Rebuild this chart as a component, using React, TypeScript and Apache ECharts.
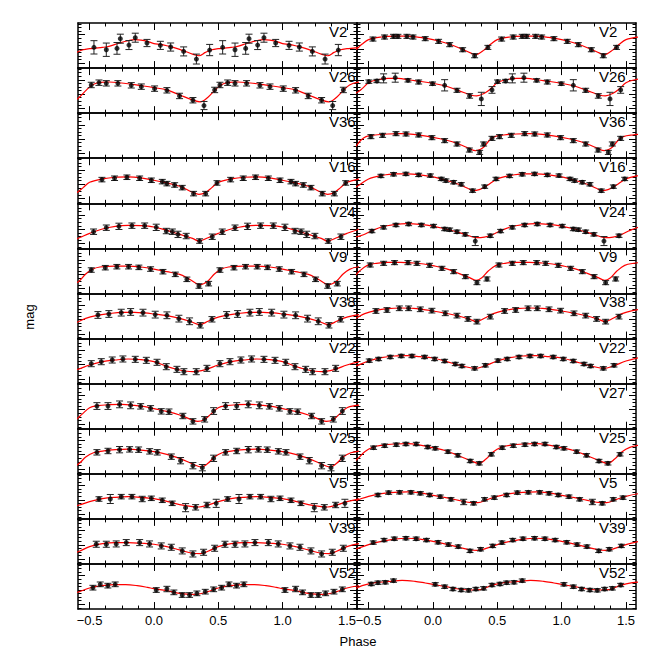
import React, { useEffect, useRef } from 'react';
import * as echarts from 'echarts';

// ---------- axes ----------
const X_MIN = -0.59;
const X_MAX = 1.578;
const X_MAJOR = [-0.5, 0, 0.5, 1, 1.5];
const X_MINOR = [-0.375, -0.25, -0.125, 0.125, 0.25, 0.375, 0.625, 0.75, 0.875, 1.125, 1.25, 1.375];
const Y_MAJOR = [0.26, 0.577, 0.894];
const Y_MINOR = [0.022, 0.101, 0.181, 0.339, 0.418, 0.498, 0.656, 0.735, 0.815, 0.973];

const LEFT_NAMES = ['V2', 'V26', 'V36', 'V16', 'V24', 'V9', 'V38', 'V22', 'V27', 'V25', 'V5', 'V39', 'V52'];
const RIGHT_NAMES = ['V2', 'V26', 'V36', 'V16', 'V24', 'V9', 'V38', 'V22', 'V27', 'V25', 'V5', 'V39', 'V52'];

// ---------- data: [phase, relative mag (0 top .. 1 bottom), error] ----------
const L_V2_PTS = [[-0.466,0.54,0.148],[-0.37,0.593,0.148],[-0.287,0.563,0.13],[-0.261,0.348,0.1],[-0.194,0.489,0.1],[-0.145,0.326,0.1],[-0.054,0.444,0.08],[0.05,0.496,0.09],[0.13,0.533,0.09],[0.231,0.63,0.1],[0.33,0.8,0.11],[0.433,0.6,0.125]];
const L_V2_FIT = [[0,0.456],[0.05,0.474],[0.1,0.504],[0.15,0.541],[0.2,0.585],[0.25,0.637],[0.3,0.689],[0.35,0.726],[0.4,0.652],[0.45,0.593],[0.5,0.57],[0.55,0.556],[0.6,0.541],[0.65,0.519],[0.7,0.474],[0.75,0.43],[0.8,0.393],[0.85,0.37],[0.9,0.378],[0.95,0.407]];
const L_V26_PTS = [[-0.487,0.375,0.06],[-0.427,0.324,0.06],[-0.37,0.338,0.06],[-0.28,0.338,0.06],[-0.176,0.382,0.06],[-0.098,0.412,0.06],[0.005,0.456,0.06],[0.101,0.493,0.06],[0.199,0.618,0.06],[0.303,0.713,0.06],[0.389,0.831,0.09],[0.472,0.485,0.06]];
const L_V26_FIT = [[0,0.434],[0.1,0.485],[0.2,0.596],[0.3,0.706],[0.36,0.75],[0.42,0.647],[0.47,0.5],[0.52,0.375],[0.58,0.316],[0.65,0.309],[0.75,0.331],[0.85,0.368],[0.92,0.397]];
const L_V16_PTS = [[-0.404,0.474,0.05],[-0.306,0.444,0.05],[-0.21,0.422,0.05],[-0.111,0.444,0.05],[-0.02,0.489,0.05],[0.065,0.519,0.05],[0.101,0.563,0.05],[0.161,0.593,0.05],[0.22,0.652,0.05],[0.308,0.785,0.05],[0.402,0.785,0.05],[0.49,0.548,0.05]];
const L_V16_FIT = [[0,0.489],[0.1,0.548],[0.2,0.622],[0.3,0.756],[0.35,0.8],[0.4,0.763],[0.45,0.652],[0.5,0.533],[0.6,0.459],[0.7,0.422],[0.8,0.415],[0.9,0.437]];
const L_V24_PTS = [[-0.469,0.63,0.06],[-0.37,0.541,0.06],[-0.272,0.511,0.07],[-0.171,0.496,0.06],[-0.072,0.496,0.06],[0.018,0.533,0.07],[0.096,0.615,0.06],[0.143,0.63,0.06],[0.187,0.689,0.07],[0.251,0.726,0.06],[0.355,0.837,0.05],[0.453,0.741,0.06]];
const L_V24_FIT = [[0,0.526],[0.1,0.6],[0.2,0.689],[0.3,0.778],[0.35,0.837],[0.42,0.763],[0.5,0.667],[0.6,0.57],[0.7,0.511],[0.8,0.489],[0.9,0.496]];
const L_V9_PTS = [[-0.487,0.48,0.05],[-0.378,0.428,0.05],[-0.288,0.406,0.05],[-0.197,0.406,0.05],[-0.117,0.421,0.05],[-0.026,0.458,0.05],[0.07,0.517,0.05],[0.166,0.576,0.05],[0.256,0.686,0.05],[0.35,0.834,0.05],[0.425,0.782,0.05]];
const L_V9_FIT = [[0,0.458],[0.1,0.517],[0.2,0.576],[0.27,0.672],[0.36,0.805],[0.42,0.723],[0.47,0.568],[0.52,0.465],[0.58,0.413],[0.7,0.391],[0.8,0.391],[0.9,0.413]];
const L_V38_PTS = [[-0.435,0.477,0.075],[-0.35,0.455,0.075],[-0.254,0.425,0.075],[-0.181,0.41,0.075],[-0.085,0.425,0.075],[0.01,0.469,0.075],[0.101,0.484,0.075],[0.194,0.558,0.075],[0.277,0.617,0.075],[0.36,0.706,0.06],[0.451,0.573,0.06]];
const L_V38_FIT = [[0,0.455],[0.1,0.492],[0.2,0.551],[0.28,0.617],[0.355,0.691],[0.42,0.617],[0.47,0.551],[0.55,0.492],[0.65,0.447],[0.75,0.418],[0.85,0.418],[0.93,0.432]];
const L_V22_PTS = [[-0.487,0.557,0.067],[-0.409,0.513,0.067],[-0.324,0.476,0.067],[-0.241,0.453,0.067],[-0.145,0.461,0.067],[-0.059,0.483,0.067],[0.024,0.527,0.067],[0.096,0.624,0.067],[0.179,0.683,0.067],[0.233,0.735,0.067],[0.329,0.735,0.067],[0.412,0.661,0.067]];
const L_V22_FIT = [[0,0.513],[0.1,0.616],[0.2,0.698],[0.3,0.735],[0.4,0.69],[0.5,0.587],[0.6,0.513],[0.7,0.476],[0.8,0.453],[0.9,0.468]];
const L_V27_PTS = [[-0.443,0.497,0.075],[-0.357,0.497,0.075],[-0.267,0.46,0.075],[-0.181,0.482,0.075],[-0.103,0.504,0.06],[-0.026,0.548,0.06],[0.057,0.615,0.06],[0.117,0.622,0.06],[0.225,0.718,0.06],[0.303,0.837,0.06],[0.394,0.792,0.06],[0.464,0.608,0.075]];
const L_V27_FIT = [[0,0.556],[0.1,0.615],[0.2,0.696],[0.3,0.807],[0.34,0.837],[0.39,0.8],[0.44,0.681],[0.5,0.533],[0.56,0.489],[0.65,0.467],[0.75,0.46],[0.85,0.482],[0.93,0.511]];
const L_V25_PTS = [[-0.443,0.524,0.06],[-0.357,0.494,0.06],[-0.267,0.465,0.07],[-0.189,0.458,0.06],[-0.119,0.465,0.06],[-0.033,0.502,0.06],[0.026,0.524,0.06],[0.135,0.62,0.06],[0.207,0.709,0.07],[0.303,0.82,0.07],[0.376,0.864,0.07],[0.464,0.657,0.07]];
const L_V25_FIT = [[0,0.509],[0.1,0.568],[0.2,0.657],[0.3,0.783],[0.37,0.849],[0.42,0.768],[0.47,0.628],[0.53,0.532],[0.6,0.495],[0.7,0.465],[0.8,0.451],[0.9,0.473]];
const L_V5_PTS = [[-0.427,0.559,0.05],[-0.339,0.559,0.1],[-0.254,0.507,0.05],[-0.171,0.507,0.05],[-0.091,0.559,0.06],[-0.02,0.544,0.05],[0.065,0.588,0.05],[0.142,0.655,0.05],[0.246,0.751,0.09],[0.324,0.744,0.06],[0.412,0.692,0.06],[0.484,0.655,0.09]];
const L_V5_FIT = [[0,0.551],[0.1,0.61],[0.2,0.684],[0.3,0.729],[0.35,0.736],[0.42,0.692],[0.5,0.618],[0.6,0.551],[0.7,0.521],[0.8,0.507],[0.9,0.521]];
const L_V39_PTS = [[-0.448,0.563,0.067],[-0.37,0.563,0.067],[-0.293,0.556,0.067],[-0.215,0.526,0.067],[-0.111,0.526,0.067],[-0.034,0.556,0.067],[0.057,0.6,0.067],[0.135,0.63,0.067],[0.22,0.711,0.067],[0.303,0.778,0.067],[0.386,0.741,0.067],[0.472,0.652,0.067]];
const L_V39_FIT = [[0,0.563],[0.1,0.615],[0.2,0.689],[0.3,0.763],[0.36,0.77],[0.42,0.719],[0.5,0.615],[0.6,0.548],[0.7,0.526],[0.8,0.526],[0.9,0.541]];
const L_V52_PTS = [[-0.474,0.526,0.052],[-0.417,0.452,0.052],[-0.358,0.481,0.052],[-0.301,0.452,0.052],[0.018,0.578,0.052],[0.101,0.556,0.06],[0.155,0.63,0.052],[0.22,0.689,0.052],[0.277,0.689,0.052],[0.334,0.652,0.052],[0.399,0.615,0.052],[0.464,0.563,0.052]];
const L_V52_FIT = [[0,0.548],[0.1,0.593],[0.2,0.652],[0.3,0.674],[0.35,0.667],[0.42,0.615],[0.5,0.533],[0.6,0.481],[0.7,0.459],[0.78,0.459],[0.87,0.481],[0.95,0.519]];

const R_V2_PTS = [[-0.466,0.356,0.045],[-0.376,0.311,0.045],[-0.306,0.296,0.045],[-0.272,0.296,0.045],[-0.202,0.296,0.045],[-0.155,0.311,0.045],[-0.06,0.348,0.045],[0.044,0.407,0.045],[0.13,0.481,0.045],[0.231,0.593,0.045],[0.324,0.726,0.045],[0.427,0.541,0.045]];
const R_V2_FIT = [[0,0.37],[0.1,0.444],[0.2,0.548],[0.3,0.674],[0.33,0.704],[0.4,0.593],[0.45,0.467],[0.5,0.37],[0.6,0.311],[0.7,0.289],[0.8,0.289],[0.9,0.319]];
const R_V26_PTS = [[-0.498,0.301,0.037],[-0.435,0.287,0.037],[-0.383,0.228,0.1],[-0.293,0.213,0.1],[-0.194,0.272,0.037],[-0.111,0.309,0.045],[-0.003,0.346,0.037],[0.091,0.382,0.125],[0.187,0.493,0.045],[0.285,0.618,0.05],[0.376,0.684,0.147],[0.459,0.485,0.074]];
const R_V26_FIT = [[0,0.338],[0.1,0.397],[0.2,0.5],[0.3,0.603],[0.34,0.618],[0.4,0.559],[0.45,0.456],[0.5,0.324],[0.56,0.265],[0.65,0.228],[0.73,0.228],[0.82,0.265],[0.9,0.294]];
const R_V36_PTS = [[-0.482,0.521,0.045],[-0.391,0.492,0.045],[-0.287,0.455,0.045],[-0.209,0.462,0.045],[-0.111,0.484,0.045],[-0.008,0.544,0.045],[0.091,0.61,0.045],[0.187,0.684,0.045],[0.283,0.818,0.045],[0.363,0.87,0.045],[0.394,0.684,0.045],[0.459,0.559,0.045]];
const R_V36_FIT = [[0,0.537],[0.1,0.596],[0.2,0.684],[0.28,0.781],[0.33,0.833],[0.37,0.8],[0.4,0.74],[0.44,0.6],[0.48,0.52],[0.55,0.484],[0.65,0.462],[0.75,0.455],[0.85,0.47]];
const R_V16_PTS = [[-0.404,0.393,0.037],[-0.306,0.356,0.037],[-0.21,0.348,0.037],[-0.111,0.37,0.037],[-0.02,0.385,0.037],[0.065,0.459,0.037],[0.101,0.496,0.037],[0.161,0.533,0.037],[0.22,0.578,0.037],[0.308,0.719,0.037],[0.402,0.63,0.037],[0.49,0.459,0.037]];
const R_V16_FIT = [[0,0.415],[0.1,0.489],[0.2,0.578],[0.27,0.667],[0.31,0.719],[0.36,0.696],[0.42,0.607],[0.5,0.459],[0.6,0.385],[0.7,0.348],[0.8,0.348],[0.9,0.37]];
const R_V24_PTS = [[-0.474,0.615,0.037],[-0.383,0.533,0.037],[-0.287,0.481,0.037],[-0.189,0.459,0.037],[-0.09,0.481,0.037],[0.005,0.504,0.037],[0.091,0.57,0.037],[0.13,0.585,0.037],[0.187,0.63,0.037],[0.251,0.689,0.037],[0.329,0.837,0.1],[0.446,0.719,0.037]];
const R_V24_FIT = [[0,0.504],[0.1,0.57],[0.2,0.644],[0.28,0.719],[0.34,0.763],[0.4,0.748],[0.46,0.696],[0.52,0.615],[0.6,0.526],[0.7,0.474],[0.8,0.452],[0.9,0.467]];
const R_V9_PTS = [[-0.487,0.368,0.045],[-0.383,0.331,0.045],[-0.298,0.316,0.045],[-0.194,0.316,0.045],[-0.124,0.331,0.045],[-0.026,0.375,0.045],[0.07,0.442,0.045],[0.161,0.516,0.045],[0.252,0.627,0.045],[0.342,0.76,0.045],[0.42,0.678,0.045]];
const R_V9_FIT = [[0,0.383],[0.1,0.449],[0.2,0.553],[0.28,0.642],[0.335,0.708],[0.38,0.649],[0.43,0.501],[0.49,0.376],[0.56,0.331],[0.65,0.309],[0.75,0.309],[0.85,0.324],[0.93,0.346]];
const R_V38_PTS = [[-0.443,0.388,0.052],[-0.357,0.366,0.052],[-0.261,0.329,0.052],[-0.189,0.329,0.052],[-0.098,0.351,0.052],[-0.008,0.381,0.052],[0.096,0.44,0.052],[0.187,0.491,0.052],[0.272,0.565,0.052],[0.342,0.625,0.052],[0.446,0.514,0.052]];
const R_V38_FIT = [[0,0.388],[0.1,0.44],[0.2,0.499],[0.28,0.565],[0.34,0.625],[0.4,0.551],[0.47,0.447],[0.55,0.381],[0.65,0.336],[0.75,0.322],[0.85,0.329],[0.93,0.359]];
const R_V22_PTS = [[-0.495,0.49,0.037],[-0.422,0.453,0.037],[-0.331,0.409,0.037],[-0.246,0.387,0.037],[-0.163,0.387,0.037],[-0.065,0.409,0.037],[0.013,0.453,0.037],[0.091,0.498,0.037],[0.174,0.564,0.037],[0.225,0.609,0.037],[0.324,0.661,0.037],[0.407,0.594,0.037]];
const R_V22_FIT = [[0,0.431],[0.1,0.505],[0.2,0.586],[0.3,0.653],[0.33,0.661],[0.4,0.609],[0.5,0.498],[0.6,0.424],[0.7,0.387],[0.8,0.379],[0.9,0.401]];
const R_V25_PTS = [[-0.461,0.421,0.037],[-0.375,0.376,0.037],[-0.285,0.354,0.037],[-0.21,0.339,0.037],[-0.129,0.339,0.037],[-0.041,0.406,0.037],[0.018,0.435,0.037],[0.117,0.509,0.037],[0.194,0.59,0.037],[0.29,0.716,0.037],[0.36,0.768,0.037],[0.454,0.568,0.037]];
const R_V25_FIT = [[0,0.421],[0.1,0.488],[0.2,0.599],[0.3,0.716],[0.355,0.768],[0.41,0.679],[0.47,0.509],[0.53,0.413],[0.6,0.369],[0.7,0.339],[0.8,0.332],[0.9,0.362]];
const R_V5_PTS = [[-0.427,0.47,0.037],[-0.344,0.418,0.037],[-0.259,0.411,0.037],[-0.171,0.411,0.037],[-0.098,0.433,0.037],[-0.026,0.47,0.037],[0.057,0.507,0.037],[0.14,0.566,0.037],[0.239,0.625,0.06],[0.316,0.655,0.037],[0.401,0.566,0.037],[0.477,0.529,0.037]];
const R_V5_FIT = [[0,0.477],[0.1,0.529],[0.2,0.588],[0.3,0.64],[0.35,0.64],[0.42,0.573],[0.5,0.499],[0.6,0.44],[0.7,0.411],[0.8,0.403],[0.9,0.425]];
const R_V39_PTS = [[-0.464,0.526,0.037],[-0.38,0.47,0.037],[-0.3,0.44,0.037],[-0.21,0.43,0.037],[-0.13,0.44,0.037],[-0.05,0.47,0.037],[0.04,0.52,0.037],[0.12,0.57,0.037],[0.197,0.615,0.037],[0.288,0.71,0.037],[0.37,0.674,0.037],[0.464,0.6,0.037]];
const R_V39_FIT = [[0,0.5],[0.1,0.56],[0.2,0.63],[0.29,0.69],[0.34,0.7],[0.42,0.65],[0.5,0.57],[0.6,0.5],[0.7,0.45],[0.8,0.43],[0.9,0.45]];
const R_V52_PTS = [[-0.479,0.444,0.037],[-0.427,0.415,0.037],[-0.37,0.407,0.037],[-0.306,0.37,0.037],[0.018,0.452,0.037],[0.091,0.504,0.037],[0.155,0.556,0.037],[0.22,0.578,0.037],[0.277,0.585,0.037],[0.334,0.556,0.037],[0.394,0.541,0.037],[0.459,0.467,0.037]];
const R_V52_FIT = [[0,0.452],[0.1,0.504],[0.2,0.556],[0.3,0.578],[0.37,0.57],[0.45,0.481],[0.55,0.415],[0.65,0.393],[0.76,0.363],[0.86,0.385],[0.94,0.422]];

const LEFT_PTS = [L_V2_PTS, L_V26_PTS, null, L_V16_PTS, L_V24_PTS, L_V9_PTS, L_V38_PTS, L_V22_PTS, L_V27_PTS, L_V25_PTS, L_V5_PTS, L_V39_PTS, L_V52_PTS];
const LEFT_FIT = [L_V2_FIT, L_V26_FIT, null, L_V16_FIT, L_V24_FIT, L_V9_FIT, L_V38_FIT, L_V22_FIT, L_V27_FIT, L_V25_FIT, L_V5_FIT, L_V39_FIT, L_V52_FIT];
const RIGHT_PTS = [R_V2_PTS, R_V26_PTS, R_V36_PTS, R_V16_PTS, R_V24_PTS, R_V9_PTS, R_V38_PTS, R_V22_PTS, null, R_V25_PTS, R_V5_PTS, R_V39_PTS, R_V52_PTS];
const RIGHT_FIT = [R_V2_FIT, R_V26_FIT, R_V36_FIT, R_V16_FIT, R_V24_FIT, R_V9_FIT, R_V38_FIT, R_V22_FIT, null, R_V25_FIT, R_V5_FIT, R_V39_FIT, R_V52_FIT];

// ---------- layout ----------
const COL_LEFT = [78, 357];
const COL_W = 279;
const TOP0 = 23;
const ROW_H = 45.08;
const N_ROWS = 13;
const LABEL_X = [329, 599];
const FONT = '"Liberation Sans", Arial, Helvetica, sans-serif';

// phase-folded curves are drawn over more than one cycle
function tileFit(fit: number[][]) {
  const out: number[][] = [];
  for (const k of [-1, 0, 1, 2]) {
    for (const [p, v] of fit) {
      const x = p + k;
      if (x >= X_MIN - 0.25 && x <= X_MAX + 0.25) out.push([x, v]);
    }
  }
  out.sort((a, b) => a[0] - b[0]);
  return out;
}
function tilePts(pts: number[][]) {
  const out: number[][] = [];
  for (const k of [0, 1]) {
    for (const [p, v, e] of pts) {
      const x = p + k;
      if (x >= -0.5 && x <= 1.5) out.push([x, v, e]);
    }
  }
  return out;
}

function fmt(v: number) {
  if (Math.abs(v) < 1e-9) return '0.0';
  return (v < 0 ? '\u2212' : '') + Math.abs(v).toFixed(1);
}

function buildOption() {
  const grid: any[] = [];
  const xAxis: any[] = [];
  const yAxis: any[] = [];
  const series: any[] = [];
  const graphic: any[] = [];
  const frame = { show: true, onZero: false, lineStyle: { color: '#000', width: 1.5 } };
  const noLine = { show: false, onZero: false };
  const tickStyle = { color: '#000', width: 1 };

  for (let col = 0; col < 2; col++) {
    for (let row = 0; row < N_ROWS; row++) {
      const gi = grid.length;
      const top = TOP0 + row * ROW_H;
      grid.push({ left: COL_LEFT[col], top, width: COL_W, height: ROW_H });
      const bottomRow = row === N_ROWS - 1;
      const xi = xAxis.length;
      const baseX = { gridIndex: gi, type: 'value', min: X_MIN, max: X_MAX, splitLine: { show: false } };
      xAxis.push({
        ...baseX, position: 'bottom', axisLine: frame,
        axisTick: { show: true, inside: true, length: 7, customValues: X_MAJOR, lineStyle: tickStyle },
        axisLabel: { show: bottomRow, customValues: X_MAJOR, formatter: fmt, margin: 5, fontSize: 13, color: '#000', fontFamily: FONT },
      });
      xAxis.push({
        ...baseX, position: 'bottom', axisLine: noLine,
        axisTick: { show: true, inside: true, length: 3.5, customValues: X_MINOR, lineStyle: tickStyle },
        axisLabel: { show: false },
      });
      xAxis.push({
        ...baseX, position: 'top', axisLine: frame,
        axisTick: { show: true, inside: true, length: 7, customValues: X_MAJOR, lineStyle: tickStyle },
        axisLabel: { show: false },
      });
      xAxis.push({
        ...baseX, position: 'top', axisLine: noLine,
        axisTick: { show: true, inside: true, length: 3.5, customValues: X_MINOR, lineStyle: tickStyle },
        axisLabel: { show: false },
      });
      const yi = yAxis.length;
      const baseY = { gridIndex: gi, type: 'value', min: 0, max: 1, inverse: true, splitLine: { show: false }, axisLabel: { show: false } };
      yAxis.push({ ...baseY, position: 'left', axisLine: frame,
        axisTick: { show: true, inside: true, length: 7, customValues: Y_MAJOR, lineStyle: tickStyle } });
      yAxis.push({ ...baseY, position: 'left', axisLine: noLine,
        axisTick: { show: true, inside: true, length: 3.5, customValues: Y_MINOR, lineStyle: tickStyle } });
      yAxis.push({ ...baseY, position: 'right', axisLine: frame,
        axisTick: { show: true, inside: true, length: 7, customValues: Y_MAJOR, lineStyle: tickStyle } });
      yAxis.push({ ...baseY, position: 'right', axisLine: noLine,
        axisTick: { show: true, inside: true, length: 3.5, customValues: Y_MINOR, lineStyle: tickStyle } });

      const fit = col === 0 ? LEFT_FIT[row] : RIGHT_FIT[row];
      const pts = col === 0 ? LEFT_PTS[row] : RIGHT_PTS[row];
      if (fit) {
        series.push({
          type: 'line', xAxisIndex: xi, yAxisIndex: yi, data: tileFit(fit), smooth: 0.35,
          showSymbol: false, symbol: 'none', lineStyle: { color: '#ff0000', width: 1.2 }, silent: true, z: 2,
        });
      }
      if (pts) {
        const d = tilePts(pts);
        series.push({
          type: 'custom', xAxisIndex: xi, yAxisIndex: yi, data: d, encode: { x: 0, y: 1 }, z: 3, silent: true,
          renderItem: (_p: any, api: any) => {
            const x = api.value(0), y = api.value(1), e = api.value(2);
            const a = api.coord([x, y - e]);
            const b = api.coord([x, y + e]);
            const w = 3.5;
            const style = { stroke: '#222', lineWidth: 1 };
            return {
              type: 'group', children: [
                { type: 'line', shape: { x1: a[0], y1: a[1], x2: b[0], y2: b[1] }, style },
                { type: 'line', shape: { x1: a[0] - w, y1: a[1], x2: a[0] + w, y2: a[1] }, style },
                { type: 'line', shape: { x1: b[0] - w, y1: b[1], x2: b[0] + w, y2: b[1] }, style },
              ],
            };
          },
        });
        series.push({
          type: 'scatter', xAxisIndex: xi, yAxisIndex: yi, data: d.map((q) => [q[0], q[1]]),
          symbol: 'circle', symbolSize: 5, itemStyle: { color: '#000' }, z: 4, silent: true,
        });
      }
      const names = col === 0 ? LEFT_NAMES : RIGHT_NAMES;
      graphic.push({
        type: 'text', x: LABEL_X[col], y: top + 1, z: 10,
        style: { text: names[row], fontSize: 15, fontFamily: FONT, fill: '#000', align: 'left', verticalAlign: 'top' },
      });
    }
  }
  graphic.push({
    type: 'text', x: 358, y: 641,
    style: { text: 'Phase', fontSize: 13, fontFamily: FONT, fill: '#000', align: 'center', verticalAlign: 'middle' },
  });
  graphic.push({
    type: 'text', x: 29, y: 317, rotation: Math.PI / 2,
    style: { text: 'mag', fontSize: 13, fontFamily: FONT, fill: '#000', align: 'center', verticalAlign: 'middle' },
  });

  return { animation: false, backgroundColor: '#fff', grid, xAxis, yAxis, series, graphic };
}

export default function App() {
  const ref = useRef<HTMLDivElement>(null);
  useEffect(() => {
    if (!ref.current) return;
    const chart = echarts.init(ref.current, undefined, { renderer: 'svg' });
    chart.setOption(buildOption() as any);
    return () => chart.dispose();
  }, []);
  return <div ref={ref} style={{ position: 'absolute', left: 0, top: 0, width: 659, height: 659, background: '#fff' }} />;
}
